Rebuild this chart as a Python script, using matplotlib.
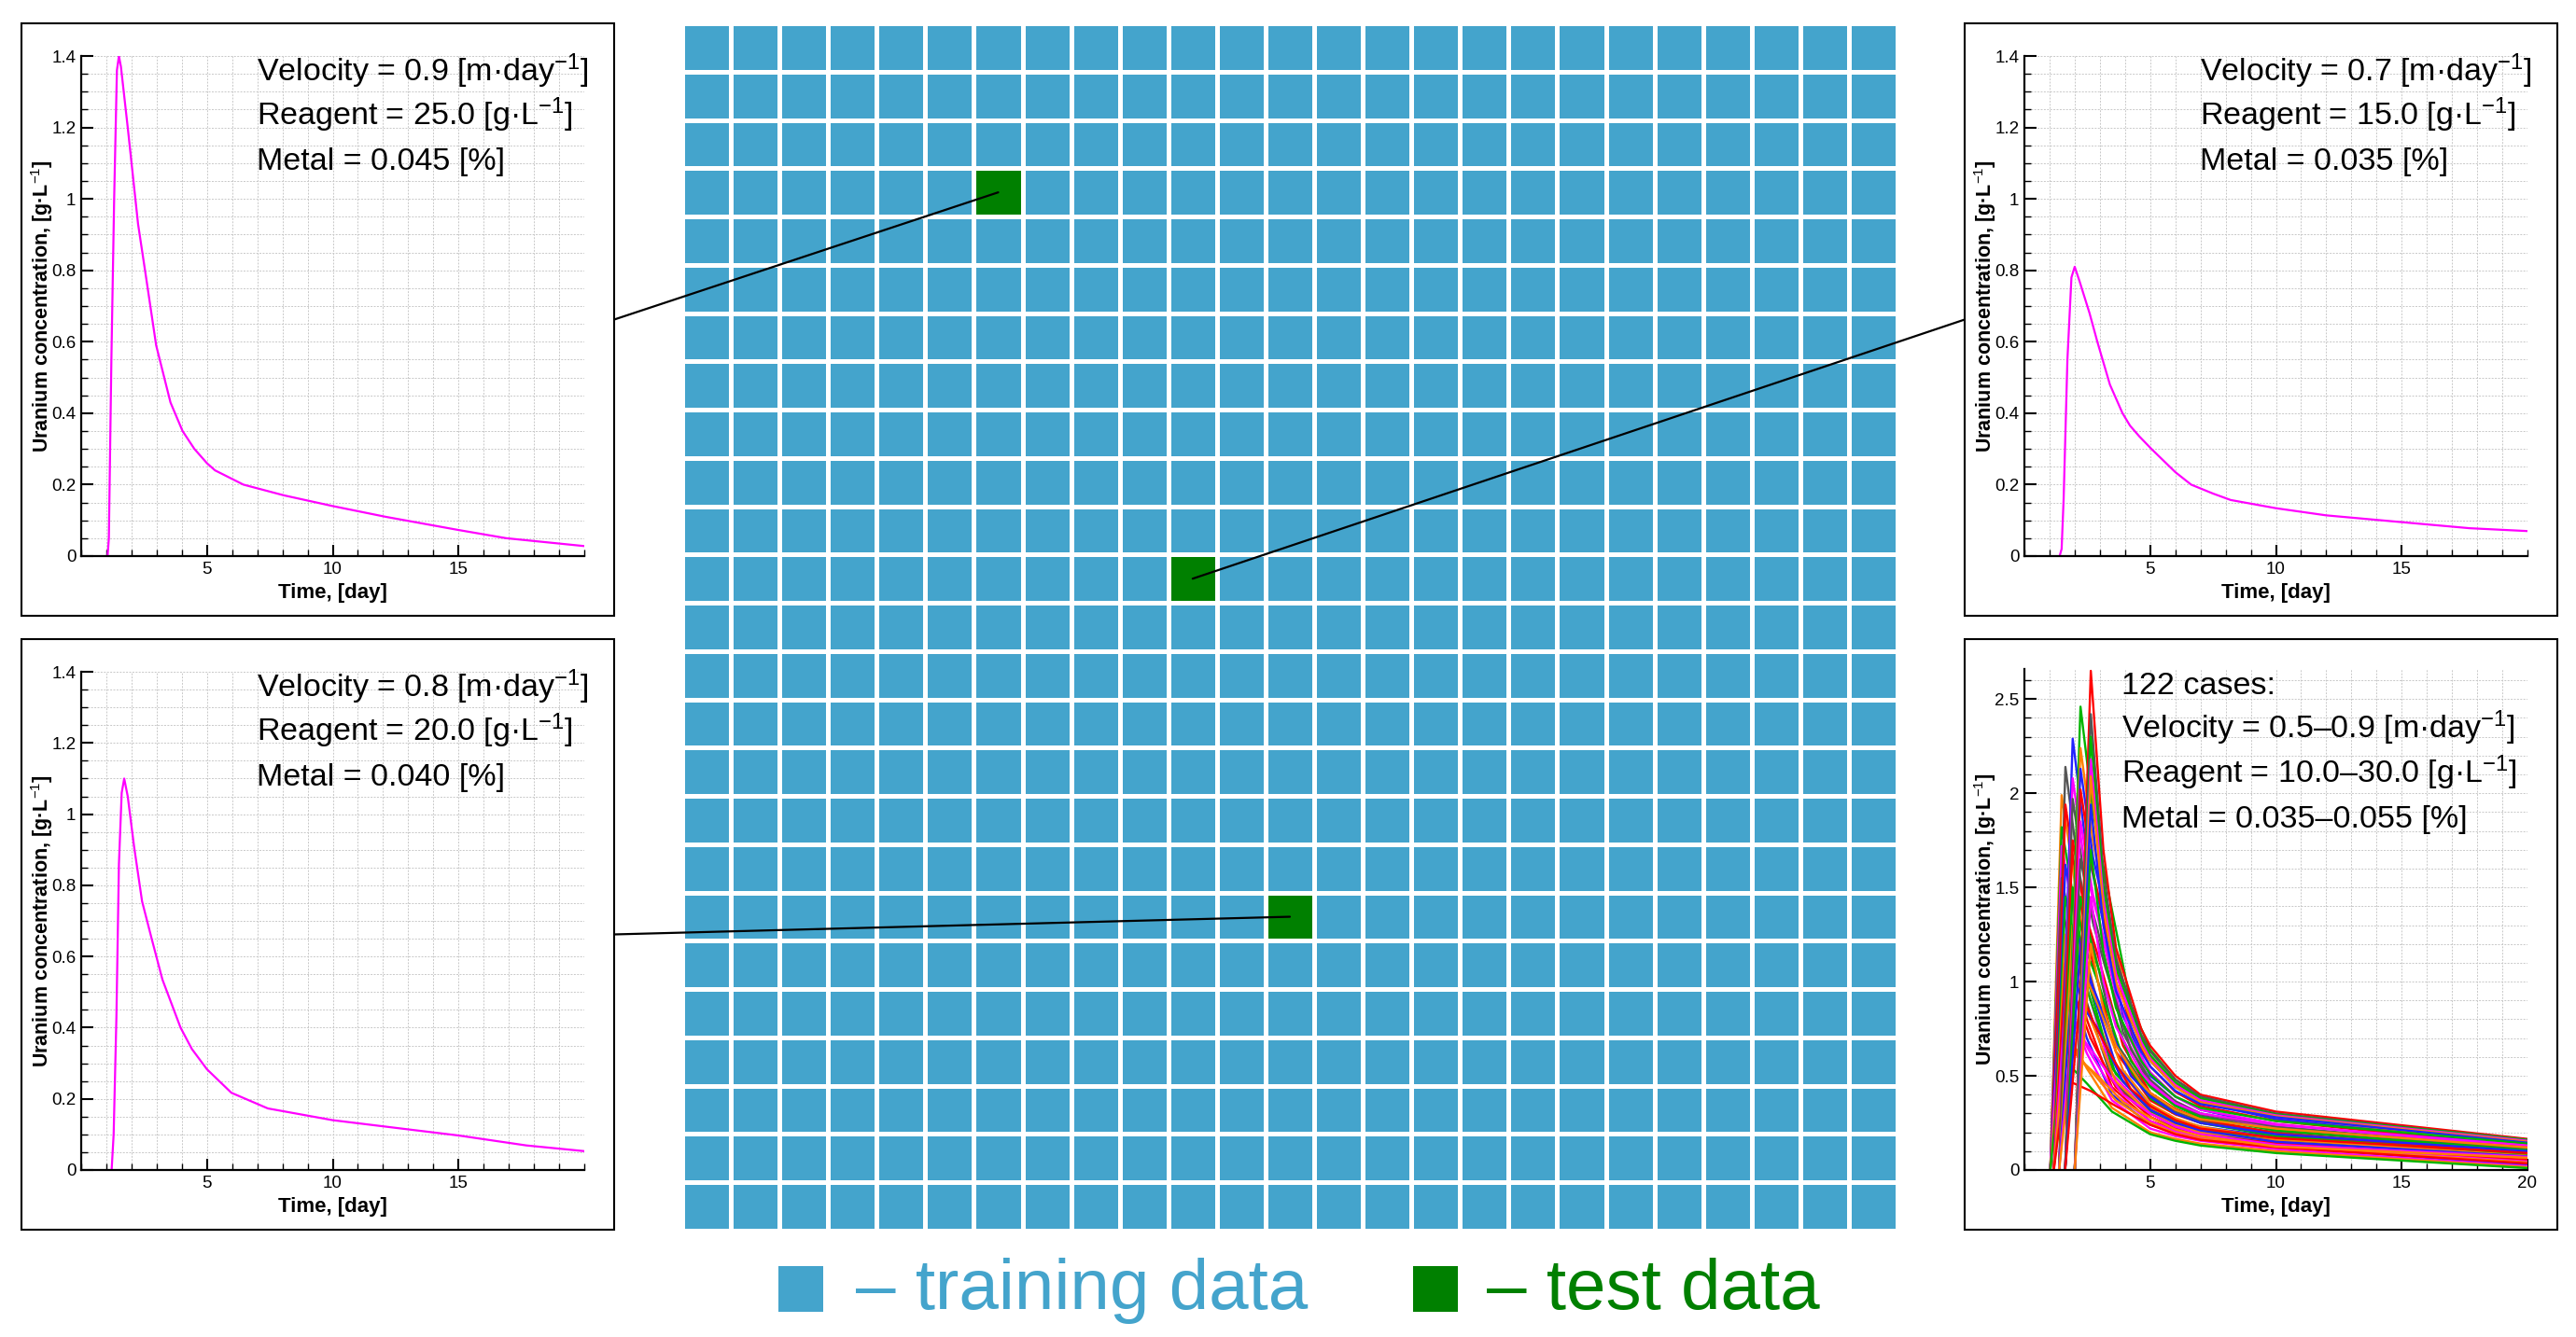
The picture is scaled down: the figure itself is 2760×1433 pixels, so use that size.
import numpy as np
import matplotlib
matplotlib.use("Agg")
import matplotlib.pyplot as plt
from matplotlib.patches import Rectangle, ConnectionPatch
from matplotlib.colors import ListedColormap
from matplotlib.ticker import MultipleLocator, FixedLocator, FuncFormatter

plt.rcParams["font.family"] = ["Liberation Sans", "DejaVu Sans"]
plt.rcParams["mathtext.fontset"] = "custom"
plt.rcParams["mathtext.rm"] = "Liberation Sans"
plt.rcParams["mathtext.it"] = "Liberation Sans:italic"
plt.rcParams["mathtext.bf"] = "Liberation Sans:bold"

# ---------------- data ----------------
# 25 x 25 design grid, three cells held out as test data
n_rows, n_cols = 25, 25
test_rows = [3, 11, 18]
test_cols = [6, 10, 12]

# single test cases (time in days, concentration in g/L)
tl_time = [1.05, 1.1, 1.2, 1.31, 1.42, 1.5, 1.58, 1.85, 2.26, 2.58, 2.98, 3.55, 4.03, 4.5,
           5.0, 5.32, 6.45, 8.06, 10.0, 12.1, 15.0, 16.9, 20.0]
tl_conc = [0, 0.05, 0.55, 1.0, 1.36, 1.40, 1.37, 1.2, 0.93, 0.78, 0.59, 0.43, 0.35, 0.30,
           0.26, 0.24, 0.20, 0.17, 0.14, 0.11, 0.073, 0.05, 0.028]
tl_text = ["Velocity = 0.9 [m·day$^{-1}$]", "Reagent = 25.0 [g·L$^{-1}$]", "Metal = 0.045 [%]"]

tr_time = [1.40, 1.48, 1.56, 1.71, 1.87, 2.0, 2.19, 2.59, 2.9, 3.4, 3.9, 4.2, 4.57, 5.05, 6.0,
           6.63, 7.5, 8.2, 10.0, 12.0, 15.0, 17.7, 20.0]
tr_conc = [0, 0.02, 0.16, 0.55, 0.78, 0.81, 0.77, 0.68, 0.6, 0.48, 0.40, 0.365, 0.335, 0.30, 0.235,
           0.2, 0.175, 0.157, 0.134, 0.114, 0.095, 0.078, 0.07]
tr_text = ["Velocity = 0.7 [m·day$^{-1}$]", "Reagent = 15.0 [g·L$^{-1}$]", "Metal = 0.035 [%]"]

bl_time = [1.21, 1.29, 1.40, 1.5, 1.61, 1.71, 1.85, 2.1, 2.42, 2.82, 3.23, 3.95, 4.4, 5.0, 5.97,
           7.42, 10.0, 12.9, 15.0, 17.7, 20.0]
bl_conc = [0, 0.10, 0.43, 0.86, 1.06, 1.10, 1.05, 0.91, 0.755, 0.645, 0.535, 0.40, 0.34, 0.283,
           0.217, 0.173, 0.14, 0.115, 0.097, 0.069, 0.053]
bl_text = ["Velocity = 0.8 [m·day$^{-1}$]", "Reagent = 20.0 [g·L$^{-1}$]", "Metal = 0.040 [%]"]

# training cases: five velocity groups (onset and peak time per group)
fan_onset = [1.03, 1.17, 1.38, 1.62, 2.00]
fan_peak_t = [1.48, 1.63, 1.92, 2.23, 2.64]
fan_after_peak = [0.5, 1.0, 2.0]          # sample offsets after the peak, days
fan_late_t = [5, 6, 7, 10, 20]            # late sample times, days
fan_group = [0, 0, 0, 0, 0, 0, 0, 0, 0,
             1, 1, 1, 1, 1, 1, 1, 1, 1,
             2, 2, 2, 2, 2, 2, 2, 2, 2,
             3, 3, 3, 3, 3, 3, 3, 3, 3,
             4, 4, 4, 4, 4, 4, 4, 4, 4]
fan_peak = [1.99, 1.82, 1.72, 1.55, 1.40, 1.17, 0.99, 0.80, 0.62,
            2.14, 1.94, 1.62, 1.45, 1.25, 1.10, 0.90, 0.70, 0.48,
            2.29, 2.08, 1.97, 1.75, 1.50, 1.30, 1.05, 0.81, 0.65,
            2.46, 2.24, 2.13, 2.02, 1.85, 1.65, 1.45, 1.20, 0.95,
            2.65, 2.42, 2.30, 2.18, 2.09, 1.94, 1.70, 1.45, 1.20]
fan_ch = [1.55, 1.42, 1.34, 1.21, 1.10, 0.93, 0.80, 0.66, 0.53,
          1.62, 1.48, 1.25, 1.13, 0.99, 0.88, 0.74, 0.60, 0.45,
          1.75, 1.60, 1.52, 1.36, 1.18, 1.03, 0.85, 0.68, 0.56,
          1.90, 1.74, 1.66, 1.58, 1.46, 1.31, 1.16, 0.97, 0.79,
          1.70, 1.58, 1.51, 1.44, 1.39, 1.30, 1.16, 1.00, 0.85]
fan_c1 = [1.12, 1.03, 0.97, 0.89, 0.80, 0.70, 0.62, 0.54, 0.46,
          1.25, 1.15, 0.98, 0.90, 0.80, 0.70, 0.62, 0.53, 0.42,
          1.45, 1.34, 1.27, 1.14, 1.00, 0.88, 0.75, 0.59, 0.50,
          1.55, 1.42, 1.36, 1.29, 1.19, 1.07, 0.95, 0.80, 0.66,
          1.18, 1.12, 1.08, 1.04, 1.00, 0.95, 0.86, 0.76, 0.66]
fan_c2 = [0.58, 0.54, 0.51, 0.48, 0.44, 0.40, 0.37, 0.33, 0.31,
          0.68, 0.63, 0.56, 0.51, 0.47, 0.44, 0.40, 0.37, 0.34,
          0.82, 0.77, 0.73, 0.66, 0.59, 0.53, 0.47, 0.40, 0.36,
          0.88, 0.82, 0.79, 0.75, 0.70, 0.64, 0.58, 0.50, 0.43,
          0.75, 0.72, 0.70, 0.68, 0.66, 0.63, 0.58, 0.52, 0.46]
fan_c5 = [0.33, 0.31, 0.30, 0.28, 0.26, 0.24, 0.22, 0.20, 0.19,
          0.40, 0.37, 0.34, 0.32, 0.30, 0.283, 0.26, 0.25, 0.24,
          0.50, 0.47, 0.45, 0.41, 0.38, 0.35, 0.32, 0.30, 0.28,
          0.64, 0.60, 0.58, 0.55, 0.52, 0.48, 0.44, 0.39, 0.34,
          0.66, 0.63, 0.61, 0.59, 0.58, 0.55, 0.51, 0.46, 0.41]
fan_c6 = [0.265, 0.25, 0.24, 0.225, 0.215, 0.20, 0.18, 0.165, 0.155,
          0.31, 0.295, 0.27, 0.255, 0.24, 0.217, 0.205, 0.195, 0.19,
          0.39, 0.365, 0.35, 0.325, 0.30, 0.275, 0.25, 0.23, 0.215,
          0.48, 0.455, 0.44, 0.415, 0.39, 0.365, 0.34, 0.30, 0.265,
          0.50, 0.48, 0.465, 0.45, 0.44, 0.42, 0.39, 0.355, 0.32]
fan_c7 = [0.22, 0.21, 0.20, 0.19, 0.185, 0.17, 0.155, 0.14, 0.13,
          0.26, 0.25, 0.23, 0.215, 0.20, 0.18, 0.17, 0.165, 0.16,
          0.32, 0.30, 0.29, 0.27, 0.25, 0.23, 0.21, 0.19, 0.18,
          0.39, 0.37, 0.36, 0.34, 0.32, 0.30, 0.28, 0.25, 0.22,
          0.40, 0.39, 0.38, 0.37, 0.36, 0.35, 0.33, 0.30, 0.27]
fan_c10 = [0.17, 0.16, 0.155, 0.15, 0.14, 0.125, 0.11, 0.10, 0.09,
           0.20, 0.19, 0.175, 0.165, 0.155, 0.14, 0.13, 0.125, 0.12,
           0.23, 0.22, 0.21, 0.195, 0.18, 0.165, 0.15, 0.134, 0.125,
           0.29, 0.28, 0.27, 0.26, 0.245, 0.23, 0.21, 0.19, 0.17,
           0.31, 0.30, 0.295, 0.29, 0.285, 0.28, 0.26, 0.24, 0.22]
fan_c20 = [0.05, 0.045, 0.04, 0.035, 0.028, 0.025, 0.02, 0.015, 0.01,
           0.075, 0.07, 0.065, 0.06, 0.055, 0.053, 0.045, 0.04, 0.035,
           0.10, 0.095, 0.09, 0.085, 0.08, 0.075, 0.072, 0.07, 0.065,
           0.135, 0.13, 0.125, 0.12, 0.115, 0.11, 0.105, 0.10, 0.09,
           0.165, 0.16, 0.16, 0.155, 0.15, 0.145, 0.14, 0.13, 0.12]
fan_color = ["o", "g", "m", "k", "r", "b", "m", "o", "g",
             "k", "r", "b", "g", "o", "r", "m", "o", "r",
             "b", "m", "k", "r", "g", "o", "b", "m", "o",
             "g", "o", "b", "r", "m", "k", "g", "b", "r",
             "r", "k", "g", "m", "o", "b", "g", "m", "o"]
br_text = ["122 cases:", "Velocity = 0.5–0.9 [m·day$^{-1}$]",
           "Reagent = 10.0–30.0 [g·L$^{-1}$]", "Metal = 0.035–0.055 [%]"]

# ---------------- style ----------------
BLUE = "#44a4cc"
GREEN = "#008000"
MAGENTA = "#ff00ff"
PALETTE = {"r": "#ff0000", "g": "#00b400", "b": "#2222ff", "m": "#ff00ff",
           "o": "#ff8000", "k": "#555555"}

W, H = 2760, 1433
fig = plt.figure(figsize=(W / 100, H / 100), dpi=100)

# panel boxes in pixels: left, top, right, bottom
BOX_TL = (23, 25, 658, 660)
BOX_TR = (2105, 25, 2740, 660)
BOX_BL = (23, 685, 658, 1318)
BOX_BR = (2105, 685, 2740, 1318)


def add_box(box):
    x0, y0, x1, y1 = box
    fig.add_artist(Rectangle((x0 / W, 1 - y1 / H), (x1 - x0) / W, (y1 - y0) / H,
                             transform=fig.transFigure, fill=False, ec="black",
                             lw=1.5, zorder=5))


def make_panel(box, ymax, ystep, yminor, xticks, top_off=35):
    add_box(box)
    x0, y0, x1, y1 = box
    ax = fig.add_axes([(x0 + 64) / W, 1 - (y1 - 64) / H,
                       (x1 - x0 - 64 - 32) / W, (y1 - 64 - y0 - top_off) / H])
    for s in ("top", "right"):
        ax.spines[s].set_visible(False)
    for s in ("left", "bottom"):
        ax.spines[s].set_linewidth(1.6)
    ax.set_xlim(0, 20)
    ax.set_ylim(0, ymax)
    ax.xaxis.set_major_locator(FixedLocator(xticks))
    ax.xaxis.set_minor_locator(MultipleLocator(1))
    ax.yaxis.set_major_locator(MultipleLocator(ystep))
    ax.yaxis.set_minor_locator(MultipleLocator(yminor))
    ax.yaxis.set_major_formatter(FuncFormatter(lambda v, p: f"{v:g}"))
    ax.tick_params(which="major", direction="in", length=9, width=1.5,
                   labelsize=13.5, pad=4, colors="black")
    ax.tick_params(which="minor", direction="in", length=5, width=1.0)
    ax.grid(which="both", color="#c8c8c8", lw=0.7, ls=(0, (2, 1.5)))
    ax.set_axisbelow(True)
    ax.set_xlabel("Time, [day]", fontsize=16, fontweight="bold", labelpad=5)
    ax.set_ylabel("Uranium concentration, [g·L$^{-1}$]", fontsize=15.5,
                  fontweight="bold", labelpad=-3)
    return ax


def panel_text(box, lines, x_off, y_off=62):
    x0, y0 = box[0], box[1]
    for i, s in enumerate(lines):
        fig.text((x0 + x_off) / W, 1 - (y0 + y_off + 47.5 * i) / H, s,
                 fontsize=24.5, ha="left", va="baseline", color="black")


# single-case panels
for box, t, c, txt in [(BOX_TL, tl_time, tl_conc, tl_text),
                       (BOX_TR, tr_time, tr_conc, tr_text),
                       (BOX_BL, bl_time, bl_conc, bl_text)]:
    ax = make_panel(box, 1.4001, 0.2, 0.05, [5, 10, 15])
    ax.plot(t, c, color=MAGENTA, lw=1.6)
    panel_text(box, txt, 252)

# all training cases
ax_br = make_panel(BOX_BR, 2.66, 0.5, 0.1, [5, 10, 15, 20], top_off=32)
for i in range(len(fan_peak)):
    g = fan_group[i]
    tp = fan_peak_t[g]
    t = [fan_onset[g], tp] + [tp + d for d in fan_after_peak] + fan_late_t
    c = [0, fan_peak[i], fan_ch[i], fan_c1[i], fan_c2[i],
         fan_c5[i], fan_c6[i], fan_c7[i], fan_c10[i], fan_c20[i]]
    ax_br.plot(t, c, color=PALETTE[fan_color[i]], lw=1.7)
panel_text(BOX_BR, br_text, 168, y_off=59)

# design grid
cells = np.zeros((n_rows, n_cols))
for r, cidx in zip(test_rows, test_cols):
    cells[r, cidx] = 1
ax_g = fig.add_axes([731 / W, 1 - 1319 / H, (2033 - 731) / W, (1319 - 25) / H])
ax_g.pcolormesh(np.arange(n_cols + 1), np.arange(n_rows + 1), cells,
                cmap=ListedColormap([BLUE, GREEN]), vmin=0, vmax=1,
                edgecolors="white", linewidth=2.4)
ax_g.set_xlim(0, n_cols)
ax_g.set_ylim(n_rows, 0)
ax_g.axis("off")

# connectors from panel edge to the held-out cell
for (bx, by), r, cidx in [((BOX_TL[2], (BOX_TL[1] + BOX_TL[3]) / 2), test_rows[0], test_cols[0]),
                          ((BOX_TR[0], (BOX_TR[1] + BOX_TR[3]) / 2), test_rows[1], test_cols[1]),
                          ((BOX_BL[2], (BOX_BL[1] + BOX_BL[3]) / 2), test_rows[2], test_cols[2])]:
    con = ConnectionPatch(xyA=(bx / W, 1 - by / H), coordsA="figure fraction",
                          xyB=(cidx + 0.5, r + 0.5), coordsB="data", axesB=ax_g,
                          color="black", lw=1.6, zorder=10)
    fig.add_artist(con)

# legend
for x0, col, label, tx in [(834, BLUE, "– training data", 917),
                           (1514, GREEN, "– test data", 1593)]:
    fig.add_artist(Rectangle((x0 / W, 1 - 1406 / H), 48 / W, 49 / H,
                             transform=fig.transFigure, color=col, lw=0))
    fig.text(tx / W, 1 - 1403 / H, label, fontsize=55, color=col,
             ha="left", va="baseline")

fig.savefig("out.png", dpi=100, facecolor="white")
